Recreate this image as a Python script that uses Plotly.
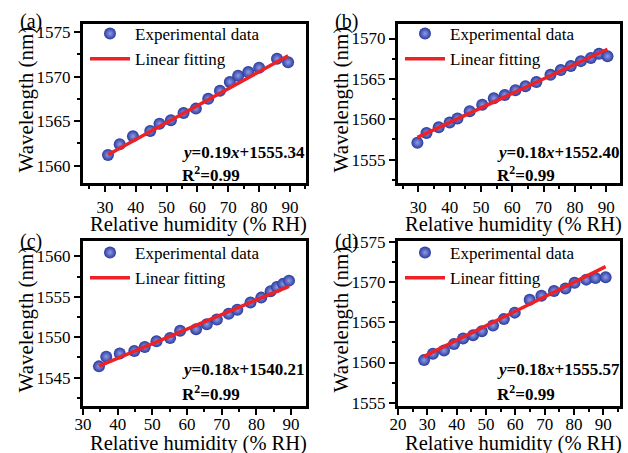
import plotly.graph_objects as go

W, H = 628, 453

# ---------------- data ----------------
a_rh = [31.0, 34.8, 39.1, 44.7, 47.7, 51.4, 55.5, 59.5, 63.5, 67.3, 70.5, 73.2, 76.5, 80.0, 85.8, 89.4]
a_wl = [1561.2, 1562.4, 1563.3, 1563.9, 1564.7, 1565.1, 1565.9, 1566.4, 1567.5, 1568.4,
        1569.4, 1570.1, 1570.5, 1571.0, 1572.0, 1571.6]

b_rh = [29.7, 32.6, 36.5, 40.0, 42.5, 46.4, 50.4, 54.1, 57.6, 61.0, 64.2, 67.7, 72.2, 75.5,
        78.7, 81.9, 85.1, 87.7, 90.4]
b_wl = [1557.1, 1558.3, 1559.0, 1559.6, 1560.1, 1561.0, 1561.8, 1562.6, 1563.0, 1563.6,
        1564.1, 1564.6, 1565.5, 1566.1, 1566.6, 1567.2, 1567.6, 1568.1, 1567.8]

c_rh = [34.6, 36.7, 40.6, 44.8, 47.8, 51.2, 55.1, 58.0, 62.6, 65.7, 68.6, 72.0, 74.5, 78.3,
        81.4, 84.1, 85.9, 87.7, 89.4]
c_wl = [1546.4, 1547.6, 1548.0, 1548.3, 1548.8, 1549.5, 1549.9, 1550.8, 1551.0, 1551.6,
        1552.2, 1552.9, 1553.4, 1554.3, 1554.9, 1555.7, 1556.2, 1556.6, 1557.0]

d_rh = [28.9, 31.9, 35.7, 39.1, 42.2, 45.6, 48.6, 52.4, 56.1, 59.8, 64.9, 68.9, 73.2, 77.1,
        80.2, 84.2, 87.3, 90.8]
d_wl = [1560.3, 1561.1, 1561.5, 1562.3, 1563.0, 1563.4, 1563.9, 1564.6, 1565.4, 1566.2,
        1567.8, 1568.3, 1568.9, 1569.2, 1569.9, 1570.3, 1570.5, 1570.6]

panel_labels = ["(a)", "(b)", "(c)", "(d)"]
slopes = [0.19, 0.18, 0.18, 0.18]
intercepts = [1555.34, 1552.40, 1540.21, 1555.57]
r_squared = ["0.99", "0.99", "0.99", "0.99"]
x_ranges = [[22.9, 95.2], [23.5, 94.4], [30.0, 94.3], [20.0, 95.7]]
y_ranges = [[1558.05, 1575.9], [1552.1, 1571.8], [1541.5, 1561.9], [1554.6, 1575.1]]

rh_sets = [a_rh, b_rh, c_rh, d_rh]
wl_sets = [a_wl, b_wl, c_wl, d_wl]

# ---------------- layout geometry (pixels) ----------------
boxes = [  # left, right, top, bottom
    (83, 306, 24, 183),
    (398, 620, 24, 183),
    (83, 306, 241, 406),
    (398, 620, 241, 406),
]
xtick_standoff = [1, 1, -5, -5]
xtitle_off = [41, 41, 37, 37]
label_off = [-3, -3, 0, 0]
legend_off = [-8, -8, -6, -6]

FONT = "Liberation Serif, Times New Roman, serif"
BLUE = "#2a3a9e"
BLUE_HI = "#8e9ce6"
RED = "#ec2227"

fig = go.Figure()
layout = dict(
    width=W, height=H,
    margin=dict(l=0, r=0, t=0, b=0, autoexpand=False),
    paper_bgcolor="white", plot_bgcolor="white",
    font=dict(family=FONT, size=17, color="black"),
    showlegend=True,
)
annotations = []

for i in range(4):
    sfx = "" if i == 0 else str(i + 1)
    xa, ya = "x" + sfx, "y" + sfx
    leg = "legend" + sfx
    rh, wl = rh_sets[i], wl_sets[i]
    l, r, t, b = boxes[i]

    fig.add_trace(go.Scatter(
        x=rh, y=wl, mode="markers", name="Experimental data",
        xaxis=xa, yaxis=ya, legend=leg,
        marker=dict(size=12, color=BLUE, line=dict(width=0),
                    gradient=dict(type="radial", color=BLUE_HI)),
    ))
    x0, x1 = rh[0], rh[-1]
    fig.add_trace(go.Scatter(
        x=[x0, x1], y=[slopes[i] * x0 + intercepts[i], slopes[i] * x1 + intercepts[i]],
        mode="lines", name="Linear fitting",
        xaxis=xa, yaxis=ya, legend=leg,
        line=dict(color=RED, width=3.5),
    ))

    axis_common = dict(
        showline=True, linecolor="black", linewidth=3, mirror=True,
        ticks="outside", ticklen=6, tickwidth=2, tickcolor="black",
        showgrid=False, zeroline=False, automargin=False,
        tickfont=dict(family=FONT, size=17, color="black"),
        minor=dict(ticks="outside", ticklen=3, tickwidth=2, tickcolor="black"),
    )
    layout["xaxis" + sfx] = dict(
        axis_common, domain=[l / W, r / W], range=x_ranges[i],
        anchor=ya, dtick=10, tick0=0, minor_dtick=5,
        ticklabelstandoff=xtick_standoff[i],
    )
    layout["yaxis" + sfx] = dict(
        axis_common, domain=[1 - b / H, 1 - t / H], range=y_ranges[i],
        anchor=xa, dtick=5, tick0=0, minor_dtick=2.5,
    )
    layout[leg] = dict(
        x=(l + 2) / W, y=1 - (t + legend_off[i]) / H, xanchor="left", yanchor="top",
        bgcolor="rgba(0,0,0,0)", font=dict(family=FONT, size=17, color="black"),
        itemwidth=40, tracegroupgap=0,
    )

    # equation + R^2
    eq = "<b><i>y</i>=%.2f<i>x</i>+%.2f</b>" % (slopes[i], intercepts[i])
    eq_dy = 31 if i < 2 else 37
    r2_dy = 9 if i < 2 else 13
    annotations.append(dict(
        text=eq, xref=xa + " domain", yref=ya + " domain", x=0.435, y=0,
        xanchor="left", yanchor="middle", yshift=eq_dy, showarrow=False,
        font=dict(family=FONT, size=17, color="black"),
    ))
    annotations.append(dict(
        text="<b>R<sup>2</sup>=%s</b>" % r_squared[i], xref=xa + " domain", yref=ya + " domain",
        x=0.435, y=0, xanchor="left", yanchor="middle", yshift=r2_dy, showarrow=False,
        font=dict(family=FONT, size=17, color="black"),
    ))
    # axis titles
    annotations.append(dict(
        text="Wavelength (nm)", xref="paper", yref="paper",
        x=(l - 58) / W, y=1 - ((t + b) / 2 - 4) / H, textangle=-90,
        xanchor="center", yanchor="middle", showarrow=False,
        font=dict(family=FONT, size=21, color="black"),
    ))
    annotations.append(dict(
        text="Relative humidity (% RH)", xref="paper", yref="paper",
        x=((l + r) / 2 + 4) / W, y=1 - (b + xtitle_off[i]) / H,
        xanchor="center", yanchor="middle", showarrow=False,
        font=dict(family=FONT, size=20.5, color="black"),
    ))
    # panel label
    annotations.append(dict(
        text=panel_labels[i], xref="paper", yref="paper",
        x=(l - 52) / W, y=1 - (t + label_off[i]) / H,
        xanchor="center", yanchor="middle", showarrow=False,
        font=dict(family=FONT, size=20, color="black"),
    ))

layout["annotations"] = annotations
fig.update_layout(**layout)
fig.write_html(
    "out.html",
    config={"displayModeBar": False},
    post_script="document.body.style.margin='0';document.body.style.overflow='hidden';",
)
